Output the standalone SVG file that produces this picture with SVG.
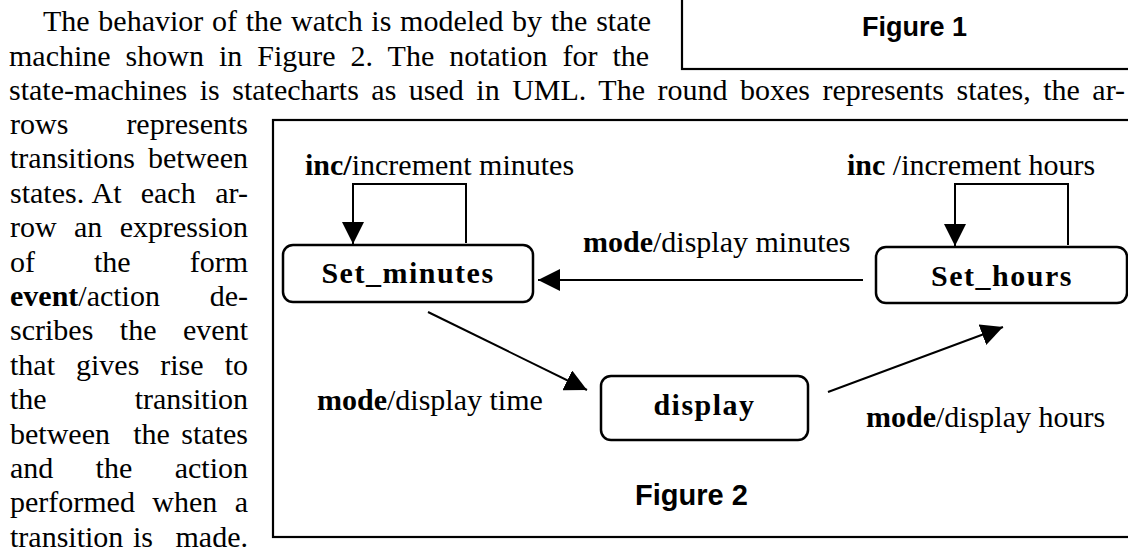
<svg xmlns="http://www.w3.org/2000/svg" width="1128" height="554" viewBox="0 0 1128 554">
<style>
.t{font-family:"Liberation Serif","Times New Roman",serif;font-size:30px;fill:#000}
.b{font-weight:bold}
.fig{font-family:"Liberation Sans",Arial,sans-serif;font-weight:bold;fill:#000}
.frame{fill:none;stroke:#000;stroke-width:2.2}
.state{fill:#fff;stroke:#000;stroke-width:2.5}
.lbl{font-family:"Liberation Serif","Times New Roman",serif;font-size:30px;font-weight:bold;text-anchor:middle;letter-spacing:1.5px}
.edge{fill:none;stroke:#000;stroke-width:2}
</style>
<defs>
<marker id="ah" markerUnits="userSpaceOnUse" markerWidth="22" markerHeight="22" viewBox="0 0 22 22" refX="22" refY="11" orient="auto">
<path d="M0,0 L22,11 L0,22 z" fill="#000"/>
</marker>
</defs>

<!-- body text -->
<g id="bodytext" class="t">
<text x="43" y="31" word-spacing="1.2">The behavior of the watch is modeled by the state</text>
<text x="9" y="65.5" word-spacing="7.5">machine shown in Figure 2. The notation for the</text>
<text x="9" y="99.5" word-spacing="5">state-machines is statecharts as used in UML. The round boxes represents states, the ar-</text>
<text y="134"><tspan x="10">rows</tspan><tspan x="248" text-anchor="end">represents</tspan></text>
<text y="168.4"><tspan x="10">transitions</tspan><tspan x="248" text-anchor="end">between</tspan></text>
<text y="202.8"><tspan x="10">states.</tspan><tspan x="91.6">At</tspan><tspan x="140.7">each</tspan><tspan x="248" text-anchor="end">ar-</tspan></text>
<text y="237.2"><tspan x="10">row</tspan><tspan x="74">an</tspan><tspan x="248" text-anchor="end">expression</tspan></text>
<text y="271.6"><tspan x="10">of</tspan><tspan x="94">the</tspan><tspan x="248" text-anchor="end">form</tspan></text>
<text y="306"><tspan x="10" class="b">event</tspan><tspan>/action</tspan><tspan x="248" text-anchor="end">de-</tspan></text>
<text y="340.4"><tspan x="10">scribes</tspan><tspan x="119.8">the</tspan><tspan x="248" text-anchor="end">event</tspan></text>
<text y="374.8"><tspan x="10">that</tspan><tspan x="76">gives</tspan><tspan x="160.3">rise</tspan><tspan x="248" text-anchor="end">to</tspan></text>
<text y="409.2"><tspan x="10">the</tspan><tspan x="248" text-anchor="end">transition</tspan></text>
<text y="443.6"><tspan x="10">between</tspan><tspan x="133.2">the</tspan><tspan x="248" text-anchor="end">states</tspan></text>
<text y="478"><tspan x="10">and</tspan><tspan x="95.6">the</tspan><tspan x="248" text-anchor="end">action</tspan></text>
<text y="512.4"><tspan x="10">performed</tspan><tspan x="152.3">when</tspan><tspan x="248" text-anchor="end">a</tspan></text>
<text y="546.8"><tspan x="10">transition</tspan><tspan x="133">is</tspan><tspan x="248" text-anchor="end">made.</tspan></text>
</g>

<!-- Figure 1 frame -->
<g id="figure1">
<rect class="frame" x="682" y="-10" width="470" height="79"/>
<text class="fig" x="862" y="36" font-size="27">Figure 1</text>
</g>

<!-- Figure 2 frame -->
<g id="figure2">
<rect class="frame" x="273" y="120" width="880" height="417"/>
<text class="fig" x="635" y="505" font-size="29">Figure 2</text>
</g>

<!-- connectors -->
<g id="connectors">
<path class="edge" d="M466,243 V184 H353 V244" marker-end="url(#ah)"/>
<path class="edge" d="M1068,245 V184 H955 V246" marker-end="url(#ah)"/>
<path class="edge" d="M863,280 H538" marker-end="url(#ah)"/>
<path class="edge" d="M428,312 L587,390" marker-end="url(#ah)"/>
<path class="edge" d="M828,392 L1003,327" marker-end="url(#ah)"/>
<text class="t" x="305" y="175"><tspan class="b">inc/</tspan>increment minutes</text>
<text class="t" x="847" y="175"><tspan class="b">inc</tspan> /increment hours</text>
<text class="t" x="583" y="252"><tspan class="b">mode</tspan>/display minutes</text>
<text class="t" x="317" y="410"><tspan class="b">mode</tspan>/display time</text>
<text class="t" x="866" y="427"><tspan class="b">mode</tspan>/display hours</text>
</g>

<!-- states -->
<g id="Set_minutes">
<rect class="state" x="283" y="245" width="250" height="57" rx="10"/>
<text class="lbl" x="408" y="283">Set_minutes</text>
</g>
<g id="Set_hours">
<rect class="state" x="876" y="247" width="251" height="56" rx="10"/>
<text class="lbl" x="1002" y="286">Set_hours</text>
</g>
<g id="display">
<rect class="state" x="601" y="376" width="207" height="64" rx="10"/>
<text class="lbl" x="704.5" y="415" letter-spacing="0.5">display</text>
</g>
</svg>
